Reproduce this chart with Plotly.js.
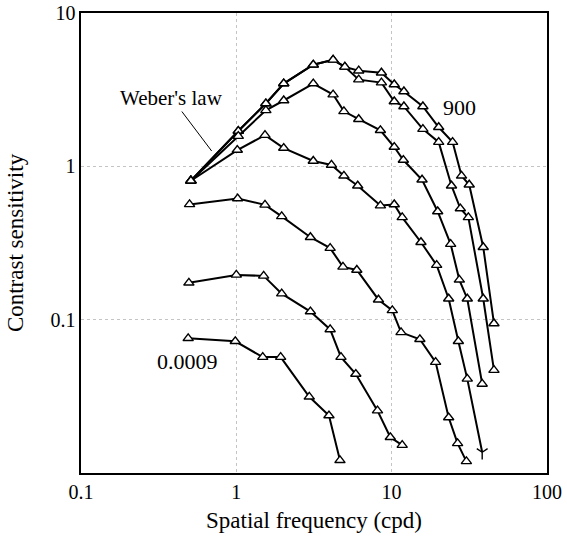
<!DOCTYPE html>
<html>
<head>
<meta charset="utf-8">
<script src="https://cdn.plot.ly/plotly-3.0.1.min.js"></script>
<style>html,body{margin:0;padding:0;background:#fff;}#chart{width:567px;height:543px;}</style>
</head>
<body>
<div id="chart"></div>
<script>
// Spatial frequency (cpd) and contrast sensitivity for each adaptation luminance
const freq900 = [0.51, 1.03, 1.55, 2.02, 3.13, 4.2, 5.0, 6.14, 8.6, 10.4, 12.0, 15.9, 20.1, 24.7, 28.2, 31.6, 38.9, 45.6];
const sens900 = [0.806, 1.70, 2.57, 3.47, 4.60, 4.95, 4.46, 4.21, 4.08, 3.42, 3.08, 2.46, 1.80, 1.44, 0.868, 0.759, 0.297, 0.0945];

const freq90 = [0.51, 1.03, 1.55, 2.02, 3.13, 4.2, 5.0, 6.14, 8.6, 10.4, 12.0, 15.9, 20.1, 24.3, 27.7, 31.2, 38.9, 45.6];
const sens90 = [0.806, 1.70, 2.57, 3.47, 4.60, 4.95, 4.46, 3.68, 3.52, 2.65, 2.46, 1.75, 1.44, 0.748, 0.531, 0.465, 0.137, 0.0469];

const freq9 = [0.51, 1.03, 1.55, 2.02, 3.13, 4.2, 4.93, 6.14, 8.47, 10.4, 11.9, 15.7, 19.8, 24.0, 27.3, 30.7, 38.3];
const sens9 = [0.806, 1.575, 2.32, 2.69, 3.47, 2.94, 2.285, 2.03, 1.72, 1.337, 1.10, 0.818, 0.508, 0.311, 0.182, 0.137, 0.0381];

const freq0_9 = [0.51, 1.015, 1.53, 2.02, 3.13, 4.1, 4.93, 6.05, 8.47, 10.4, 11.7, 15.45, 19.5, 23.3, 26.9, 30.7, 38.3];
const sens0_9 = [0.806, 1.278, 1.598, 1.317, 1.085, 1.022, 0.868, 0.748, 0.555, 0.564, 0.465, 0.320, 0.227, 0.137, 0.0723, 0.0411, 0.01365];

const freq0_09 = [0.50, 1.02, 1.53, 1.96, 3.0, 4.02, 4.86, 5.97, 8.23, 10.1, 11.5, 15.2, 19.2, 23.3, 26.6, 30.3];
const sens0_09 = [0.565, 0.617, 0.561, 0.472, 0.345, 0.293, 0.221, 0.211, 0.135, 0.115, 0.0827, 0.0745, 0.0529, 0.023, 0.0156, 0.0119];

const freq0_009 = [0.495, 1.0, 1.5, 1.96, 3.0, 4.02, 4.72, 5.88, 8.11, 9.81, 11.7];
const sens0_009 = [0.174, 0.196, 0.193, 0.148, 0.113, 0.0864, 0.057, 0.0442, 0.0255, 0.0171, 0.0152];

const freq0_0009 = [0.49, 0.985, 1.48, 1.93, 2.95, 3.95, 4.65];
const sens0_0009 = [0.0756, 0.0723, 0.057, 0.057, 0.0314, 0.0237, 0.0121];

const xTickVals = [0.1, 1, 10, 100];
const xTickText = ['0.1', '1', '10', '100'];
const yTickVals = [0.1, 1, 10];
const yTickText = ['0.1', '1', '10'];

const series = [
  {x: freq90, y: sens90},
  {x: freq900, y: sens900},
  {x: freq9, y: sens9},
  {x: freq0_9, y: sens0_9, lastOpenEnd: true},
  {x: freq0_09, y: sens0_09},
  {x: freq0_009, y: sens0_009},
  {x: freq0_0009, y: sens0_0009}
];

const FONT = '"Liberation Serif", "Times New Roman", serif';

const traces = series.map(s => {
  const n = s.x.length;
  const symbols = s.x.map((_, i) => (s.lastOpenEnd && i === n - 1) ? 'y-down' : 'triangle-up');
  const colors = s.x.map((_, i) => (s.lastOpenEnd && i === n - 1) ? 'black' : 'white');
  return {
    type: 'scatter', mode: 'lines+markers', x: s.x, y: s.y,
    line: {color: 'black', width: 2},
    marker: {symbol: symbols, size: 9, color: colors, line: {color: 'black', width: 1.4}},
    showlegend: false, hoverinfo: 'skip'
  };
});

const layout = {
  width: 567, height: 543,
  margin: {l: 81, r: 20, t: 13, b: 70},
  paper_bgcolor: 'white', plot_bgcolor: 'white',
  font: {family: FONT, color: 'black', size: 20},
  showlegend: false,
  xaxis: {
    type: 'log', range: [-1, 2.0005],
    tickvals: xTickVals, ticktext: xTickText, ticks: '',
    ticklabeloverflow: 'allow',
    tickfont: {family: FONT, size: 20, color: 'black'},
    showline: true, mirror: true, linecolor: 'black', linewidth: 1.6,
    showgrid: true, gridcolor: '#c4c4c4', griddash: 'dot', gridwidth: 1,
    zeroline: false,
    title: {text: 'Spatial frequency (cpd)', font: {family: FONT, size: 23, color: 'black'}, standoff: 10}
  },
  yaxis: {
    type: 'log', range: [-2, 1.0005],
    tickvals: yTickVals, ticktext: yTickText, ticks: '',
    ticklabeloverflow: 'allow',
    tickfont: {family: FONT, size: 20, color: 'black'},
    showline: true, mirror: true, linecolor: 'black', linewidth: 1.6,
    showgrid: true, gridcolor: '#c4c4c4', griddash: 'dot', gridwidth: 1,
    zeroline: false,
    title: {text: 'Contrast sensitivity', font: {family: FONT, size: 23, color: 'black'}, standoff: 20}
  },
  annotations: [
    {x: Math.log10(0.694), y: Math.log10(1.26), xref: 'x', yref: 'y', text: "Weber's law",
     showarrow: true, arrowhead: 0, arrowwidth: 1, arrowcolor: 'black', ax: -40, ay: -53,
     axref: 'pixel', ayref: 'pixel', standoff: 0,
     font: {family: FONT, size: 21, color: 'black'}},
    {x: Math.log10(27.3), y: Math.log10(2.42), xref: 'x', yref: 'y', text: '900', showarrow: false,
     font: {family: FONT, size: 22, color: 'black'}},
    {x: Math.log10(0.488), y: Math.log10(0.0537), xref: 'x', yref: 'y', text: '0.0009', showarrow: false,
     font: {family: FONT, size: 22, color: 'black'}}
  ]
};

Plotly.newPlot('chart', traces, layout, {displayModeBar: false, staticPlot: true});
</script>
</body>
</html>
